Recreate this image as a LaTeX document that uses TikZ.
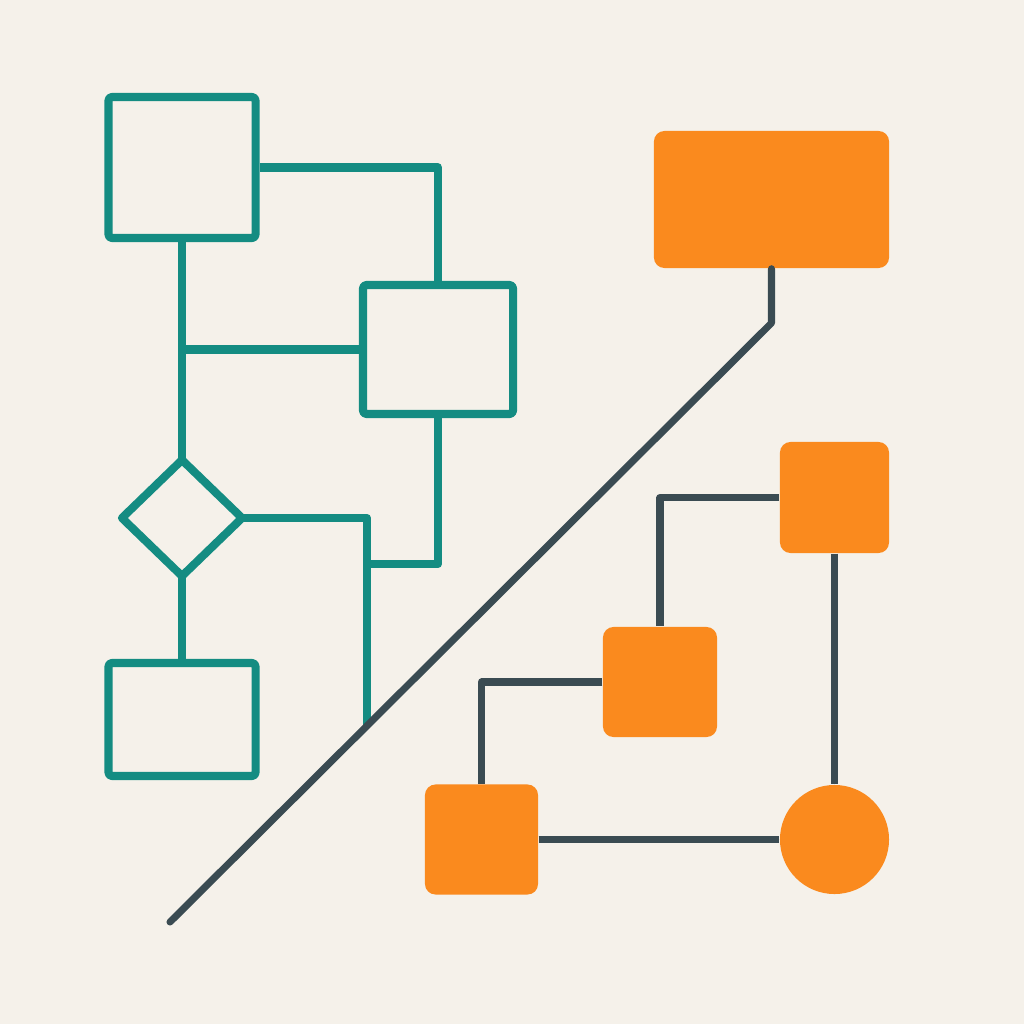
\documentclass[tikz,border=0pt]{standalone}
\usetikzlibrary{shapes.geometric}
\definecolor{paper}{RGB}{245,241,234}
\definecolor{teal}{RGB}{20,140,130}
\definecolor{amber}{RGB}{250,138,30}
\definecolor{slate}{RGB}{58,75,82}
\begin{document}
\begin{tikzpicture}[x=0.01cm,y=-0.01cm,line join=round]
\tikzstyle{step box}=[draw=teal, line width=2.3pt, rounded corners=1pt, inner sep=0pt]
\tikzstyle{choice}=[draw=teal, line width=2.3pt, diamond, inner sep=0pt, outer sep=0pt, minimum width=1.2cm, minimum height=1.16cm]
\tikzstyle{tile}=[fill=amber, rounded corners=3pt, inner sep=0pt]
\tikzstyle{flow}=[draw=teal, line width=2.3pt]
\tikzstyle{wire}=[draw=slate, line width=2pt]
\fill[paper] (0,0) rectangle (1024,1024);
\useasboundingbox (0,0) rectangle (1024,1024);

% left: outlined flowchart
\node[step box, minimum width=1.47cm, minimum height=1.41cm] (start) at (182, 167.5) {};
\node[step box, minimum width=1.5cm, minimum height=1.29cm] (check) at (438, 349.5) {};
\node[choice] (ask) at (182, 518) {};
\node[step box, minimum width=1.47cm, minimum height=1.13cm] (finish) at (182, 719.5) {};
\coordinate (merge) at (367, 564);
\coordinate (cut) at (367, 725);

\draw[flow] (start.east) -| (check.north);
\draw[flow] (start.south) -- (ask.north);
\draw[flow] (check.west) -- (start.south |- check.west);
\draw[flow] (ask.east) -| (cut);
\draw[flow] (check.south) |- (merge);
\draw[flow] (ask.south) -- (finish.north);

% right: filled blocks
\node[tile, minimum width=2.35cm, minimum height=1.37cm] (head) at (771.5, 199.5) {};
\node[tile, minimum width=1.09cm, minimum height=1.11cm] (q1) at (834.5, 497.5) {};
\node[tile, minimum width=1.14cm, minimum height=1.1cm] (q2) at (660, 682) {};
\node[tile, minimum width=1.13cm, minimum height=1.1cm] (q3) at (481.5, 839.5) {};
\node[fill=amber, circle, inner sep=0pt, minimum size=1.09cm] (hub) at (834.5, 839.5) {};

\draw[wire] (q1.west) -| (q2.north);
\draw[wire] (q2.west) -| (q3.north);
\draw[wire] (q3.east) -- (hub.west);
\draw[wire] (q1.south) -- (hub.north);

% diagonal divider
\coordinate (tail) at (170, 922);
\coordinate (bend) at (771.5, 323);
\draw[wire, line cap=round] (tail) -- (bend) -- (head.south);
\end{tikzpicture}
\end{document}
